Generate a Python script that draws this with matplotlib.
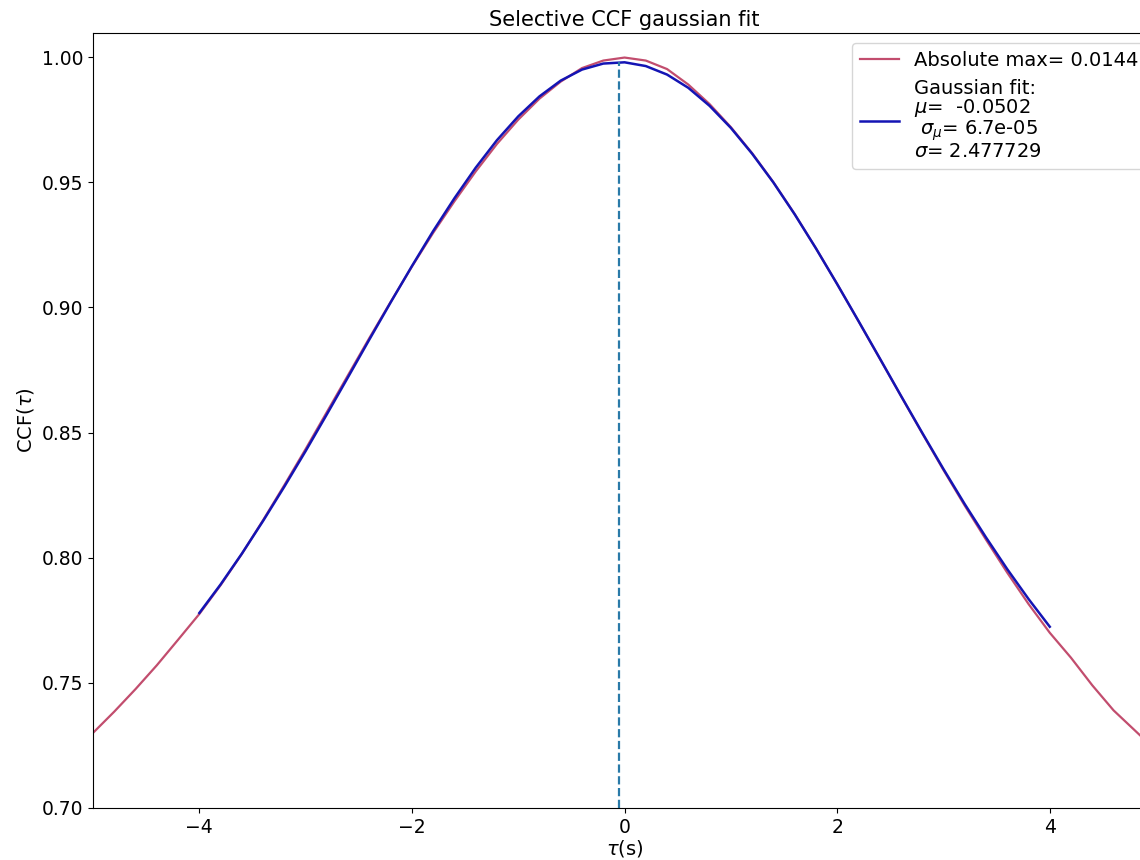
import matplotlib
matplotlib.use("Agg")
import matplotlib.pyplot as plt

# Measured CCF (red)
ccf_tau = [-5.0, -4.8, -4.6, -4.4, -4.2, -4.0, -3.8, -3.6, -3.4, -3.2, -3.0, -2.8, -2.6,
           -2.4, -2.2, -2.0, -1.8, -1.6, -1.4, -1.2, -1.0, -0.8, -0.6, -0.4, -0.2, 0.0,
           0.2, 0.4, 0.6, 0.8, 1.0, 1.2, 1.4, 1.6, 1.8, 2.0, 2.2, 2.4, 2.6, 2.8, 3.0,
           3.2, 3.4, 3.6, 3.8, 4.0, 4.2, 4.4, 4.6, 4.8, 5.0]
ccf_val = [0.7300, 0.7385, 0.7475, 0.7570, 0.7672, 0.7775, 0.7890, 0.8015, 0.8150, 0.8290,
           0.8434, 0.8582, 0.8730, 0.8878, 0.9022, 0.9163, 0.9298, 0.9424, 0.9543, 0.9653,
           0.9750, 0.9834, 0.9902, 0.9956, 0.9986, 0.9998, 0.9986, 0.9952, 0.9890, 0.9812,
           0.9720, 0.9616, 0.9500, 0.9373, 0.9236, 0.9093, 0.8945, 0.8796, 0.8646, 0.8497,
           0.8350, 0.8208, 0.8072, 0.7940, 0.7815, 0.7700, 0.7600, 0.7490, 0.7390, 0.7310,
           0.7230]

# Gaussian fit (blue)
fit_tau = [-4.0, -3.8, -3.6, -3.4, -3.2, -3.0, -2.8, -2.6, -2.4, -2.2, -2.0, -1.8, -1.6,
           -1.4, -1.2, -1.0, -0.8, -0.6, -0.4, -0.2, 0.0, 0.2, 0.4, 0.6, 0.8, 1.0, 1.2,
           1.4, 1.6, 1.8, 2.0, 2.2, 2.4, 2.6, 2.8, 3.0, 3.2, 3.4, 3.6, 3.8, 4.0]
fit_val = [0.7779, 0.7893, 0.8016, 0.8147, 0.8284, 0.8426, 0.8573, 0.8722, 0.8872, 0.9020,
           0.9165, 0.9305, 0.9436, 0.9558, 0.9668, 0.9763, 0.9843, 0.9906, 0.9950, 0.9974,
           0.9979, 0.9964, 0.9930, 0.9877, 0.9805, 0.9717, 0.9614, 0.9499, 0.9372, 0.9236,
           0.9093, 0.8946, 0.8797, 0.8647, 0.8499, 0.8354, 0.8214, 0.8081, 0.7954, 0.7835,
           0.7724]

mu = -0.0502
mu_peak = 0.998
label_abs = "Absolute max= 0.0144"
label_fit = "Gaussian fit:\n$\\mu$=  -0.0502\n $\\sigma_{\\mu}$= 6.7e-05\n$\\sigma$= 2.477729"

fig = plt.figure(figsize=(11.4, 8.6), dpi=100)
ax = fig.add_axes([0.0816, 0.0605, 0.9325, 0.9011])

ax.plot(ccf_tau, ccf_val, color="#c24d6e", lw=1.6, label=label_abs)
ax.plot(fit_tau, fit_val, color="#1414b4", lw=1.8, label=label_fit)
ax.vlines(mu, 0.70, mu_peak, colors="#2a7aa8", linestyles="--", lw=1.6)

ax.set_xlim(-5, 5)
ax.set_ylim(0.70, 1.0096)
ax.set_xticks([-4, -2, 0, 2, 4])
ax.set_yticks([0.70, 0.75, 0.80, 0.85, 0.90, 0.95, 1.00])
ax.tick_params(labelsize=13.5)
ax.set_xlabel("$\\tau$(s)", fontsize=14, labelpad=1)
ax.set_ylabel("CCF($\\tau$)", fontsize=14)
ax.set_title("Selective CCF gaussian fit", fontsize=15, pad=5)
leg = ax.legend(loc="upper right", fontsize=14, handlelength=2.0)
for t in leg.get_texts():
    t.set_linespacing(0.95)

fig.savefig("out.png", dpi=100)
